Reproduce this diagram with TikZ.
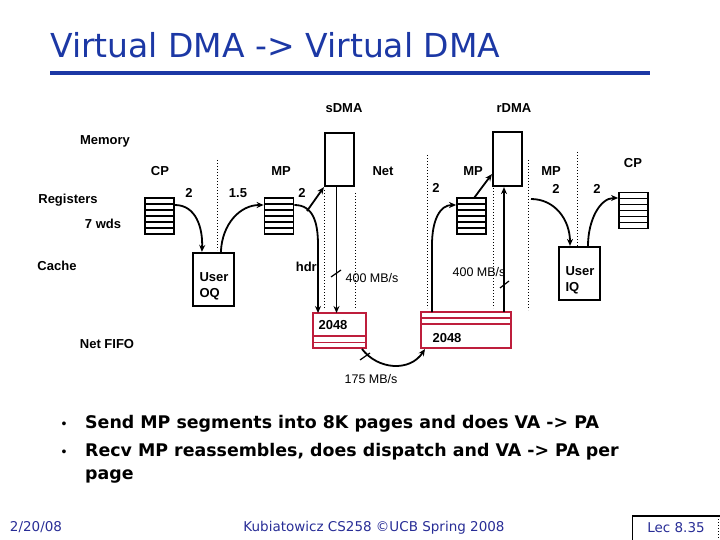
\documentclass[tikz,border=0pt]{standalone}
\usepackage{fontspec}
\setmainfont{Liberation Sans}
\newfontfamily\comic{DejaVu Sans}
\usetikzlibrary{calc,arrows.meta}
\definecolor{titleblue}{RGB}{28,56,165}
\definecolor{navy}{RGB}{40,45,150}
\definecolor{fifored}{RGB}{190,30,60}
\tikzset{
  lbl/.style={font=\fontsize{13}{15}\selectfont\bfseries, inner sep=0pt},
  rate/.style={font=\fontsize{12.5}{14}\selectfont, inner sep=0pt},
  box/.style={draw, line width=2.2pt, inner sep=0pt},
  reg/.style={draw, line width=1.8pt, minimum width=29pt, minimum height=36pt, inner sep=0pt,
    path picture={\foreach \i in {1,...,5}{\draw[line width=1.5pt]
      ($(path picture bounding box.north west)!\i/6!(path picture bounding box.south west)$) --
      ($(path picture bounding box.north east)!\i/6!(path picture bounding box.south east)$);}}},
  fifo/.style={draw=fifored, line width=2pt, inner sep=0pt},
  conn/.style={line width=1.8pt, -{Stealth[length=7pt,width=6pt]}},
  plain/.style={line width=1.8pt},
  sep/.style={line width=0.8pt, dash pattern=on 1pt off 2pt},
  bul/.style={anchor=base west, inner sep=0pt, font=\comic\fontsize{17.4}{20}\selectfont\bfseries},
  foot/.style={anchor=base, inner sep=0pt, text=navy, font=\comic\fontsize{13.5}{16}\selectfont},
}
\begin{document}
\begin{tikzpicture}[x=1pt,y=-1pt]
\useasboundingbox (0,0) rectangle (720,540);
% title
\node[anchor=base west, inner sep=0pt, text=titleblue, font=\comic\fontsize{33}{38}\selectfont] (title) at (50,58) {Virtual DMA -> Virtual DMA};
\draw[titleblue, line width=4pt] (50,73) coordinate (ul1) -- (650,73) coordinate (ul2);

% top labels
\node[lbl] (sdmat) at (344,108) {sDMA};
\node[lbl] (rdmat) at (514,108) {rDMA};
\node[lbl] (mem) at (105,141) {Memory};
\node[lbl] (cp1t) at (160,171) {CP};
\node[lbl] (mp1t) at (281,171) {MP};
\node[lbl] (nett) at (383,171) {Net};
\node[lbl] (mp2t) at (473,171) {MP};
\node[lbl] (mp3t) at (551,171) {MP};
\node[lbl] (cp2t) at (633,163) {CP};
\node[lbl] (regt) at (68,200) {Registers};
\node[lbl] (wdst) at (103,224) {7 wds};
\node[lbl] (cachet) at (57,266) {Cache};
\node[lbl] (fifot) at (107,344) {Net FIFO};
\node[lbl] (n1) at (189,193) {2};
\node[lbl] (n2) at (238,193) {1.5};
\node[lbl] (n3) at (302,193) {2};
\node[lbl] (n4) at (436,188) {2};
\node[lbl] (n5) at (556,189) {2};
\node[lbl] (n6) at (597,189) {2};

% separators
\draw[sep] (217,160) coordinate (s1a) -- (217,250) coordinate (s1b);
\draw[sep] (324,190) coordinate (s2a) -- (324,308) coordinate (s2b);
\draw[sep] (355,193) coordinate (s3a) -- (355,308) coordinate (s3b);
\draw[sep] (427,155) coordinate (s4a) -- (427,308) coordinate (s4b);
\draw[sep] (493,188) coordinate (s5a) -- (493,308) coordinate (s5b);
\draw[sep] (528,160) coordinate (s6a) -- (528,310) coordinate (s6b);
\draw[sep] (577,152) coordinate (s7a) -- (577,247) coordinate (s7b);

% boxes
\node[box, minimum width=29pt, minimum height=53pt] (sdma) at (339.5,159.5) {};
\node[box, minimum width=29pt, minimum height=54pt] (rdma) at (507.5,159) {};
\node[reg] (rcp1) at (159.5,216) {};
\node[reg] (rmp1) at (279,216) {};
\node[reg] (rmp2) at (471.5,216) {};
\node[reg] (rcp2) at (633.5,210.5) {};
\node[box, minimum width=41pt, minimum height=53pt] (uoq) at (213.5,279.5) {};
\node[lbl, align=left] (uoqt) at (214,286.5) {User\\[1pt]OQ};
\node[box, minimum width=41pt, minimum height=53pt] (uiq) at (579.5,273.5) {};
\node[lbl, align=left] (uiqt) at (580,280.5) {User\\[1pt]IQ};

% FIFOs
\node[fifo, minimum width=53pt, minimum height=35pt] (fifo1) at (339.5,330.5) {};
\draw[fifored, line width=2pt] (fifo1.west |- 0,336) -- (fifo1.east |- 0,336);
\draw[fifored, line width=1.5pt] (fifo1.west |- 0,342.5) -- (fifo1.east |- 0,342.5);
\node[lbl] (f1t) at (333,325) {2048};
\node[fifo, minimum width=90pt, minimum height=36pt] (fifo2) at (466,330) {};
\draw[fifored, line width=2pt] (fifo2.west |- 0,318) -- (fifo2.east |- 0,318);
\draw[fifored, line width=1.5pt] (fifo2.west |- 0,324) -- (fifo2.east |- 0,324);
\node[lbl] (f2t) at (447,338) {2048};

% connectors
\draw[conn] (rcp1.east |- 0,205) .. controls (196,205) and (203,228) .. ($(uoq.north west)+(10,0)$);
\draw[conn] ($(uoq.north west)+(29,0)$) .. controls (222,224) and (240,205) .. (rmp1.west |- 0,205);
\draw[conn] (rmp1.east |- 0,205) .. controls (313,205) and (318,222) .. (318,245) -- (318,313);
\coordinate (br) at (307,211);
\draw[conn] (br) -- (sdma.south west);
\node[lbl, anchor=east] (hdr) at (317,267) {hdr};
\draw[conn] ($(sdma.south)+(-3,0)$) -- (336.5,313);
\draw[plain, line width=1.2pt] (331,277) coordinate (t1a) -- (341,270) coordinate (t1b);
\node[rate] (r1) at (372,278) {400 MB/s};

\draw[conn] (362,349) .. controls (378,370) and (410,372) .. (425,349);
\draw[plain, line width=1.2pt] (360,360) coordinate (t2a) -- (370,353) coordinate (t2b);
\node[rate] (r3) at (371,379) {175 MB/s};

\draw[conn] (432,312) -- (432,245) .. controls (432,220) and (440,205) .. (rmp2.west |- 0,205);
\draw[conn] (474,198) -- ($(rdma.south west)+(0,-13)$);
\draw[conn] (504,312) -- (rdma.south -| 504,0);
\draw[plain, line width=1.2pt] (500,288) coordinate (t3a) -- (509,281) coordinate (t3b);
\node[rate] (r2) at (479,272) {400 MB/s};

\draw[conn] (531,199) .. controls (555,199) and (570,220) .. (uiq.north -| 570,0);
\draw[conn] (uiq.north -| 588,0) .. controls (588,220) and (600,198) .. (rcp2.west |- 0,198);

% bullets
\node[anchor=base, inner sep=0pt, font=\fontsize{14}{18}\selectfont] (b1) at (64,428) {•};
\node[anchor=base, inner sep=0pt, font=\fontsize{14}{18}\selectfont] (b2) at (64,456) {•};
\node[bul] (l1) at (85,428) {Send MP segments into 8K pages and does VA -> PA};
\node[bul] (l2) at (85,456) {Recv MP reassembles, does dispatch and VA -> PA per};
\node[bul] (l3) at (85,479) {page};

% footer
\node[foot] (date) at (36,531) {2/20/08};
\node[foot] (foot) at (374,531) {Kubiatowicz CS258 ©UCB Spring 2008};
\draw[line width=1pt] (632,540) coordinate (lb1) -- (632,516) coordinate (lb2);
\draw[line width=1.5pt] (632,516) -- (720,516) coordinate (lb3);
\draw[sep] (718,516) -- (718,540) coordinate (lb4);
\node[foot] (lec) at (676,532) {Lec 8.35};
\end{tikzpicture}
\end{document}
